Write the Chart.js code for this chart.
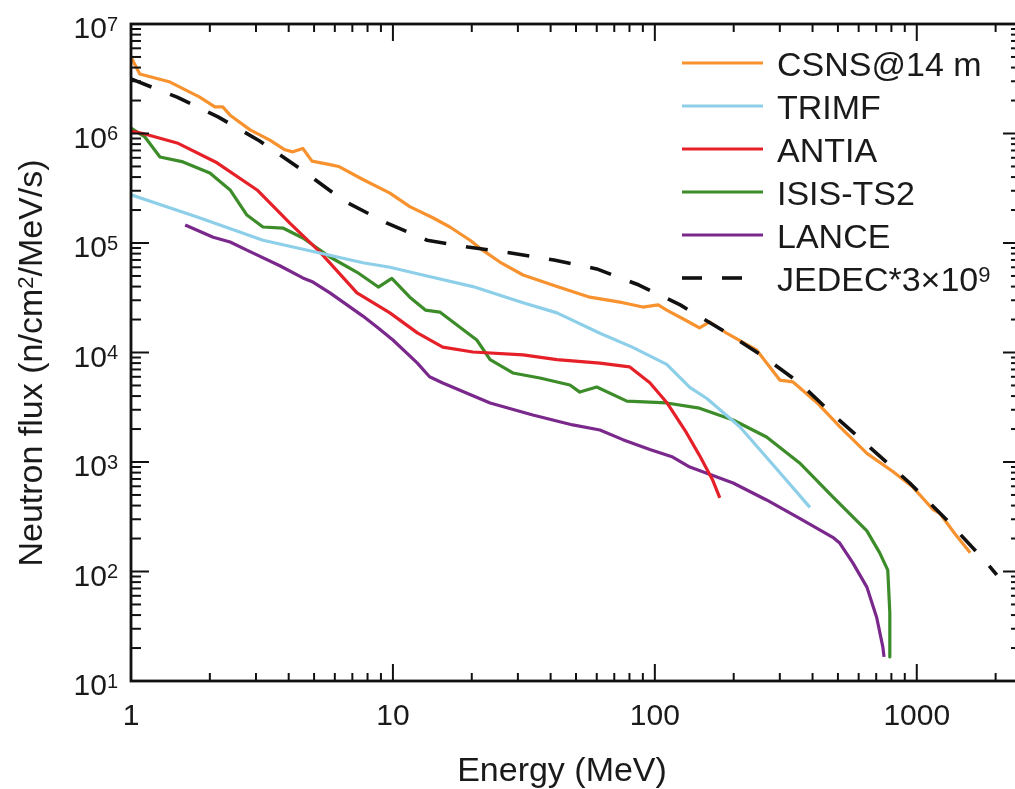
<!DOCTYPE html>
<html lang="en">
<head>
<meta charset="UTF-8">
<title>Neutron flux spectra</title>
<script src="https://cdn.jsdelivr.net/npm/chart.js"></script>
<style>
  html, body { margin: 0; padding: 0; background: #fff; }
  #wrap { width: 1015px; height: 789px; overflow: hidden; }
  canvas { display: block; }
</style>
</head>
<body>
<div id="wrap"><canvas id="chart" width="1030" height="789"></canvas></div>
<script>
// [energy (MeV), flux (n/cm^2/MeV/s)]
const csns = [[1, 5.0e6], [1.08, 3.5e6], [1.41, 2.95e6], [1.83, 2.15e6], [2.09, 1.75e6], [2.24, 1.75e6], [2.39, 1.47e6],
  [2.85, 1.08e6], [3.39, 8.7e5], [3.87, 7.1e5], [4.15, 6.8e5], [4.53, 7.3e5], [4.91, 5.6e5], [5.75, 5.2e5], [6.2, 5.0e5],
  [7.68, 3.8e5], [9.74, 2.85e5], [11.6, 2.15e5], [14.2, 1.7e5], [16.5, 1.4e5], [19.7, 1.06e5], [22, 8.6e4], [25.6, 6.7e4],
  [31.4, 5.1e4], [42.3, 4.0e4], [56.5, 3.2e4], [75.5, 2.85e4], [90, 2.6e4], [103, 2.72e4], [111, 2.44e4], [136, 1.88e4],
  [148, 1.68e4], [162, 1.9e4], [188, 1.5e4], [245, 1.05e4], [300, 5.6e3], [336, 5.4e3], [415, 3.5e3], [508, 2.1e3],
  [645, 1.2e3], [810, 820], [966, 590], [1151, 370], [1224, 340], [1400, 220], [1600, 148]];
const trimf = [[1, 2.75e5], [1.79, 1.73e5], [3.19, 1.06e5], [5.26, 8.1e4], [7.68, 6.6e4], [9.74, 6.0e4], [13, 5.1e4],
  [20.2, 4.0e4], [31.4, 2.85e4], [42.3, 2.3e4], [61.7, 1.5e4], [82, 1.12e4], [111, 7.8e3], [136, 4.8e3], [158, 3.8e3],
  [211, 2.1e3], [282, 950], [391, 385]];
const antia = [[1, 1.05e6], [1.11, 1.0e6], [1.5, 8.2e5], [2.13, 5.4e5], [3.03, 3.05e5], [4.04, 1.52e5], [5.26, 8.3e4],
  [7.29, 3.5e4], [9.74, 2.3e4], [12.4, 1.51e4], [15.5, 1.12e4], [20.2, 1.01e4], [31.4, 9.5e3], [42.3, 8.6e3], [61.7, 8.0e3],
  [80, 7.4e3], [95.7, 5.3e3], [111, 3.5e3], [132, 1.85e3], [148, 1.15e3], [166, 690], [177, 470]];
const isis = [[1, 1.12e6], [1.13, 9.3e5], [1.29, 6.1e5], [1.58, 5.5e5], [2.0, 4.35e5], [2.39, 3.05e5], [2.77, 1.8e5],
  [3.19, 1.4e5], [3.8, 1.37e5], [4.53, 1.11e5], [5.75, 7.45e4], [7.3, 5.4e4], [8.8, 3.96e4], [9.9, 4.75e4], [11.6, 3.2e4],
  [13.3, 2.44e4], [15.1, 2.34e4], [20.9, 1.3e4], [23.5, 8.6e3], [28.7, 6.5e3], [36.4, 5.85e3], [47.4, 5.05e3],
  [51.7, 4.35e3], [60, 4.84e3], [78.2, 3.6e3], [111, 3.46e3], [148, 3.1e3], [199, 2.42e3], [267, 1.69e3], [357, 980],
  [478, 480], [645, 235], [722, 148], [775, 103], [789, 42], [789, 16.6]];
const lance = [[1.61, 1.46e5], [2.06, 1.13e5], [2.39, 1.02e5], [2.77, 8.6e4], [3.7, 6.2e4], [4.53, 4.8e4], [4.95, 4.4e4],
  [5.75, 3.5e4], [7.68, 2.15e4], [8.69, 1.71e4], [10, 1.3e4], [12.4, 8.0e3], [13.8, 6.0e3], [15.5, 5.26e3], [23.5, 3.46e3],
  [34.2, 2.69e3], [48.6, 2.18e3], [61.7, 1.96e3], [75.5, 1.6e3], [95.7, 1.3e3], [117, 1.11e3], [136, 900], [199, 643],
  [267, 450], [357, 305], [478, 205], [508, 182], [570, 120], [645, 72], [703, 38], [742, 20.5], [750, 16.6]];
const jedec = [[1, 3.15e6], [1.5, 2.15e6], [2.15, 1.42e6], [3.1, 8.55e5], [4.5, 4.64e5], [6.5, 2.42e5], [9.5, 1.52e5],
  [13.5, 1.06e5], [19.3, 9.2e4], [28.2, 8.1e4], [41.2, 7.0e4], [60, 5.8e4], [87, 4.13e4], [125, 2.72e4], [185, 1.55e4],
  [258, 9.3e3], [357, 5.26e3], [486, 2.63e3], [667, 1.34e3], [940, 643], [1325, 283], [1850, 120], [2020, 93]];

const seriesNames = ['CSNS@14 m', 'TRIMF', 'ANTIA', 'ISIS-TS2', 'LANCE', 'JEDEC*3×10^9'];
const seriesColors = ['#f7922f', '#8dcfe8', '#e62028', '#3c8c2a', '#7a288c', '#111111'];
const xTickValues = [1, 10, 100, 1000];
const xTickLabels = ['1', '10', '100', '1000'];
const yTickValues = [1e1, 1e2, 1e3, 1e4, 1e5, 1e6, 1e7];
const yTickLabels = ['10^1', '10^2', '10^3', '10^4', '10^5', '10^6', '10^7'];
const xTitle = 'Energy (MeV)';
const yTitle = 'Neutron flux (n/cm^2/MeV/s)';

const FONT = '"Liberation Sans", Arial, Helvetica, sans-serif';

// "a^2b" -> normal text with one-character superscripts
function richParts(str) {
  const parts = [];
  let buf = '';
  for (let i = 0; i < str.length; i++) {
    if (str[i] === '^') {
      if (buf) parts.push({ t: buf });
      buf = '';
      parts.push({ t: str[i + 1], sup: true });
      i++;
    } else {
      buf += str[i];
    }
  }
  if (buf) parts.push({ t: buf });
  return parts;
}

function drawRich(ctx, str, x, y, size, align) {
  const parts = richParts(str);
  const sup = Math.round(size * 0.65);
  const raise = 0.72 * (size - sup);
  let w = 0;
  parts.forEach(p => {
    ctx.font = (p.sup ? sup : size) + 'px ' + FONT;
    p.w = ctx.measureText(p.t).width;
    w += p.w;
  });
  let cx = align === 'right' ? x - w : align === 'center' ? x - w / 2 : x;
  ctx.textAlign = 'left';
  ctx.textBaseline = 'alphabetic';
  parts.forEach(p => {
    ctx.font = (p.sup ? sup : size) + 'px ' + FONT;
    ctx.fillText(p.t, cx, p.sup ? y - raise : y);
    cx += p.w;
  });
}

function seg(ctx, x1, y1, x2, y2) {
  ctx.beginPath();
  ctx.moveTo(x1, y1);
  ctx.lineTo(x2, y2);
  ctx.stroke();
}

// frame with inward ticks on all sides, labels, titles and legend
const decorations = {
  id: 'decorations',
  afterDraw(chart) {
    const { ctx, chartArea: a, scales: { x, y } } = chart;
    ctx.save();
    ctx.strokeStyle = '#111';
    ctx.fillStyle = '#1a1a1a';
    ctx.lineWidth = 2;
    for (let d = 0; d <= 3; d++) {
      for (let i = 1; i <= 9; i++) {
        const v = i * Math.pow(10, d);
        if (v > x.max) continue;
        const px = x.getPixelForValue(v);
        const len = i === 1 ? 17 : 8;
        seg(ctx, px, a.bottom, px, a.bottom - len);
        seg(ctx, px, a.top, px, a.top + len);
      }
    }
    for (let d = 1; d <= 7; d++) {
      for (let i = 1; i <= 9; i++) {
        const v = i * Math.pow(10, d);
        if (v > y.max) continue;
        const py = y.getPixelForValue(v);
        const len = i === 1 ? 18 : 10;
        seg(ctx, a.left, py, a.left + len, py);
        seg(ctx, a.right, py, a.right - len, py);
      }
    }
    ctx.lineWidth = 2.8;
    ctx.strokeRect(a.left, a.top, a.right - a.left, a.bottom - a.top);

    xTickValues.forEach((v, k) => drawRich(ctx, xTickLabels[k], x.getPixelForValue(v), 725, 30, 'center'));
    yTickValues.forEach((v, k) => drawRich(ctx, yTickLabels[k], 118, y.getPixelForValue(v) + 14, 30, 'right'));
    drawRich(ctx, xTitle, 562, 781, 34, 'center');
    ctx.save();
    ctx.translate(42, 363);
    ctx.rotate(-Math.PI / 2);
    drawRich(ctx, yTitle, 0, 0, 34, 'center');
    ctx.restore();

    chart.data.datasets.forEach((ds, k) => {
      const ly = 63 + 43 * k;
      ctx.save();
      ctx.strokeStyle = ds.borderColor;
      ctx.lineWidth = ds.borderWidth;
      ctx.setLineDash(ds.borderDash ? [20, 20] : []);
      seg(ctx, 682, ly, ds.borderDash ? 742 : 763, ly);
      ctx.restore();
      drawRich(ctx, ds.label, 777, ly + 13, 34, 'left');
    });
    ctx.restore();
  }
};

const allSeries = [csns, trimf, antia, isis, lance, jedec];
const datasets = allSeries.map((s, k) => ({
  label: seriesNames[k],
  data: s.map(([e, f]) => ({ x: e, y: f })),
  borderColor: seriesColors[k],
  borderWidth: k === 5 ? 3.6 : 3.2,
  borderDash: k === 5 ? [22, 20] : undefined,
  borderJoinStyle: 'round',
  pointRadius: 0,
  tension: 0,
  fill: false,
  order: k === 5 ? 0 : k + 1
}));

new Chart(document.getElementById('chart'), {
  type: 'line',
  data: { datasets },
  options: {
    responsive: false,
    animation: false,
    devicePixelRatio: 1,
    layout: { padding: { left: 131, top: 24, right: 9, bottom: 108 } },
    plugins: { legend: { display: false }, tooltip: { enabled: false } },
    scales: {
      x: { type: 'logarithmic', min: 1, max: 2500, display: false },
      y: { type: 'logarithmic', min: 10, max: 1e7, display: false }
    }
  },
  plugins: [decorations]
});
</script>
</body>
</html>
